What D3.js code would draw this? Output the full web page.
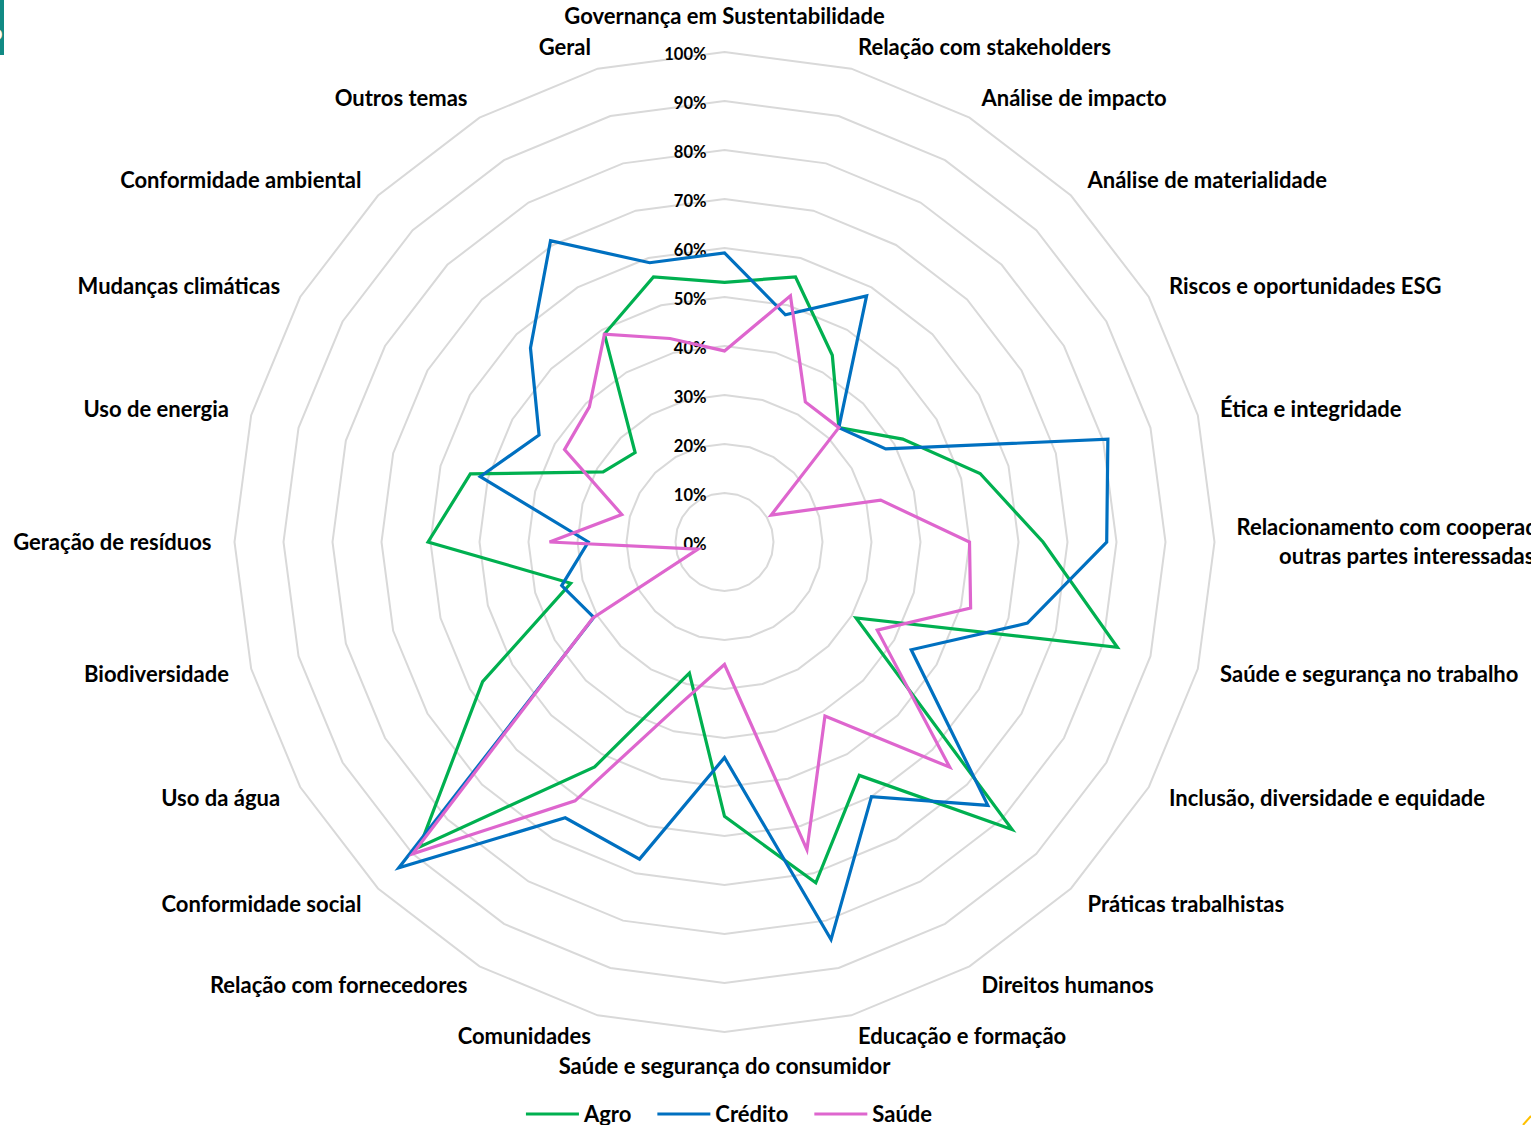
<!DOCTYPE html>
<html lang="pt">
<head>
<meta charset="utf-8">
<title>Radar ESG</title>
<script src="https://cdn.jsdelivr.net/npm/d3@7"></script>
<style>
  body { margin: 0; background: #fff; }
  svg text { font-family: Lato, "Open Sans", sans-serif; font-weight: bold; fill: #000; }
</style>
</head>
<body>
<script>
// categorias, sentido horario a partir do topo
var temas = [
  "Governança em Sustentabilidade", "Relação com stakeholders", "Análise de impacto",
  "Análise de materialidade", "Riscos e oportunidades ESG", "Ética e integridade",
  "Relacionamento com cooperados e|outras partes interessadas", "Saúde e segurança no trabalho",
  "Inclusão, diversidade e equidade", "Práticas trabalhistas", "Direitos humanos",
  "Educação e formação", "Saúde e segurança do consumidor", "Comunidades",
  "Relação com fornecedores", "Conformidade social", "Uso da água", "Biodiversidade",
  "Geração de resíduos", "Uso de energia", "Mudanças climáticas", "Conformidade ambiental",
  "Outros temas", "Geral"
];
var agro    = [53, 56, 44, 33, 42, 54, 65, 83, 31, 83, 55, 72, 56, 27.7, 53, 88, 57, 32.5, 60.5, 53.7, 28.6, 25.8, 49, 56];
var credito = [59, 48, 58, 33, 38, 81, 78, 64, 44, 76, 60, 84, 44, 67, 65, 94, 30.8, 34.4, 27.8, 51.6, 43.7, 56, 71, 59];
var saude   = [39, 52, 33, 33, 11, 33, 50, 52, 36, 65, 41, 65, 25, 34, 61, 90, 31, 5.6, 35.7, 21.7, 37.7, 39, 49, 43];
var nomes = ["Agro", "Crédito", "Saúde"];
var cores = ["#00B050", "#0070C0", "#DE66CE"];
var ticks = [0, 10, 20, 30, 40, 50, 60, 70, 80, 90, 100];

var W = 1531, H = 1125;
var cx = 724.5, cy = 542, R = 490;
var fs = 22;

var svg = d3.select("body").append("svg")
  .attr("width", W).attr("height", H);

// pedaco de elemento de slide no canto
svg.append("rect").attr("x", 0).attr("y", 0).attr("width", 4).attr("height", 55).attr("fill", "#118A84");
svg.append("text").attr("x", -9).attr("y", 40).style("fill", "#fff").attr("font-size", 20).text("o");
svg.append("line").attr("x1", 1523).attr("y1", 1125).attr("x2", 1531).attr("y2", 1116)
  .attr("stroke", "#FFC000").attr("stroke-width", 2);

var r = d3.scaleLinear().domain([0, 100]).range([0, R]);
var ang = d3.scaleLinear().domain([0, temas.length]).range([0, 2 * Math.PI]);

var g = svg.append("g").attr("transform", "translate(" + cx + "," + cy + ")");

var radar = d3.lineRadial()
  .angle(function(d, i) { return ang(i); })
  .radius(function(d) { return r(d); })
  .curve(d3.curveLinearClosed);

// grade poligonal
ticks.slice(1).forEach(function(t) {
  g.append("path")
    .datum(temas.map(function() { return t; }))
    .attr("d", radar)
    .attr("fill", "none")
    .attr("stroke", "#D9D9D9")
    .attr("stroke-width", 2);
});

// rotulos do eixo
g.selectAll(".tick")
  .data(ticks)
  .enter().append("text")
  .attr("class", "tick")
  .attr("x", -18)
  .attr("y", function(d) { return -r(d) + 2; })
  .attr("dy", "0.35em")
  .attr("text-anchor", "end")
  .attr("font-size", 16.5)
  .text(function(d) { return d + "%"; });

// series
var dados = [agro, credito, saude];
dados.forEach(function(s, k) {
  g.append("path")
    .datum(s)
    .attr("d", radar)
    .attr("fill", "none")
    .attr("stroke", cores[k])
    .attr("stroke-width", 3.2)
    .attr("stroke-linejoin", "miter");
});

// rotulos das categorias
var off = 22;
temas.forEach(function(t, i) {
  var a = ang(i);
  var s = Math.sin(a), c = Math.cos(a);
  var x = (R + off) * s, y = -(R + off) * c;
  var linhas = t.split("|");
  var txt = g.append("text").attr("font-size", fs);
  if (Math.abs(s) < 1e-6) {
    txt.attr("text-anchor", "middle").attr("x", x)
      .attr("y", y + (c > 0 ? -14 : 12)).attr("dy", "0.35em").text(t);
  } else if (linhas.length == 1) {
    txt.attr("text-anchor", s > 0 ? "start" : "end").attr("x", x + (s > 0 ? 1 : -1))
      .attr("y", y).attr("dy", "0.35em").text(t);
  } else {
    var sp = linhas.map(function(l, j) {
      return txt.append("tspan").attr("y", y + (j - (linhas.length - 1) / 2) * 29)
        .attr("dy", "0.35em").text(l);
    });
    var wmax = d3.max(sp, function(n) { return n.node().getComputedTextLength(); });
    txt.attr("text-anchor", "middle");
    sp.forEach(function(n) { n.attr("x", s > 0 ? x + wmax / 2 : x - wmax / 2); });
  }
});

// legenda
var leg = svg.append("g");
var px = 0;
nomes.forEach(function(n, k) {
  leg.append("line").attr("x1", px).attr("x2", px + 53).attr("y1", 0).attr("y2", 0)
    .attr("stroke", cores[k]).attr("stroke-width", 3.2);
  var t = leg.append("text").attr("x", px + 58).attr("y", 0).attr("dy", "0.35em")
    .attr("font-size", fs).text(n);
  px += 58 + t.node().getComputedTextLength() + 26;
});
var lw = px - 26;
leg.attr("transform", "translate(" + (729 - lw / 2) + ",1114)");
</script>
</body>
</html>
